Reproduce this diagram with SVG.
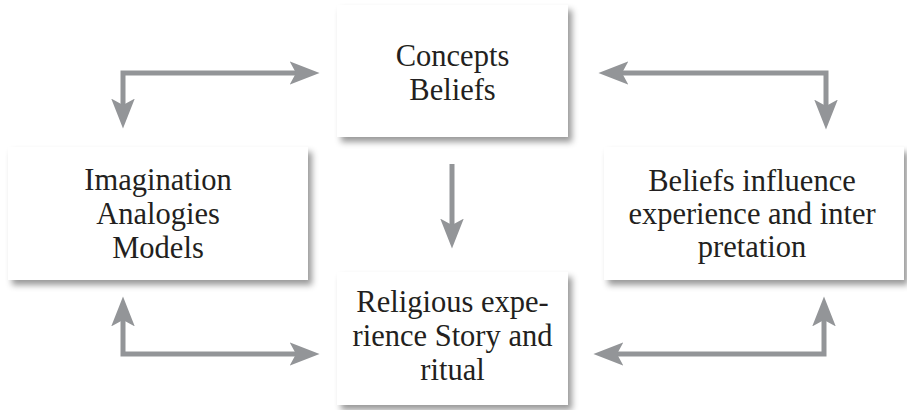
<svg xmlns="http://www.w3.org/2000/svg" width="907" height="410" viewBox="0 0 907 410">
<style>
.box{fill:#ffffff;filter:url(#sh);}
.t{font-family:"Liberation Serif","Times New Roman",serif;font-size:30.5px;fill:#231f20;text-anchor:middle;}
.c{fill:none;stroke:#939598;stroke-width:5;stroke-linejoin:miter;}
</style>
<defs>
<filter id="sh" x="-10%" y="-10%" width="125%" height="130%">
<feDropShadow dx="4" dy="5" stdDeviation="3" flood-color="#000" flood-opacity="0.4"/>
</filter>
<marker id="ah" markerUnits="userSpaceOnUse" markerWidth="30" markerHeight="24" viewBox="0 0 28 22" refX="6" refY="11" orient="auto-start-reverse">
<path d="M0,0 L28,11 L0,22 L6,11 Z" fill="#939598"/>
</marker>
</defs>
<rect width="907" height="410" fill="#ffffff"/>
<g id="connectors">
<path class="c" d="M123,105 V73 H296" marker-start="url(#ah)" marker-end="url(#ah)"/>
<path class="c" d="M622,73 H826 V106" marker-start="url(#ah)" marker-end="url(#ah)"/>
<path class="c" d="M123,320 V354 H296" marker-start="url(#ah)" marker-end="url(#ah)"/>
<path class="c" d="M617,354 H824 V320" marker-start="url(#ah)" marker-end="url(#ah)"/>
<path class="c" d="M452,164 V225" marker-end="url(#ah)"/>
</g>
<g id="concepts">
<rect class="box" x="337" y="5" width="231" height="132"/>
<text class="t" x="452.5" y="66">Concepts</text>
<text class="t" x="452.5" y="100">Beliefs</text>
</g>
<g id="imagination">
<rect class="box" x="8" y="147" width="300" height="133"/>
<text class="t" x="158" y="190">Imagination</text>
<text class="t" x="158" y="224">Analogies</text>
<text class="t" x="158" y="258">Models</text>
</g>
<g id="beliefs-influence">
<rect class="box" x="604" y="147" width="300" height="133"/>
<text class="t" x="752" y="191">Beliefs influence</text>
<text class="t" x="752" y="224">experience and inter</text>
<text class="t" x="752" y="257">pretation</text>
</g>
<g id="religious">
<rect class="box" x="337" y="272" width="231" height="133"/>
<text class="t" x="452.5" y="312">Religious expe-</text>
<text class="t" x="452.5" y="346">rience Story and</text>
<text class="t" x="452.5" y="380">ritual</text>
</g>
</svg>
